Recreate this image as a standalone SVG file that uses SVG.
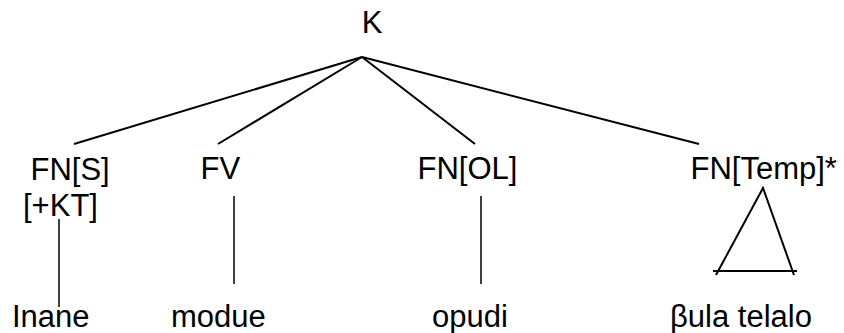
<svg xmlns="http://www.w3.org/2000/svg" width="844" height="333" viewBox="0 0 844 333">
<style>
text{font-family:"Liberation Sans",Arial,sans-serif;font-size:31px;fill:#000}
.e{stroke:#000;stroke-width:2;fill:none}
.v{stroke:#000;stroke-width:1.5;fill:none}
</style>
<rect width="844" height="333" fill="#fff"/>
<g id="connectors">
<line class="e" x1="362" y1="57" x2="74" y2="144"/>
<line class="e" x1="362" y1="57" x2="218" y2="144"/>
<line class="e" x1="362" y1="57" x2="475" y2="144"/>
<line class="e" x1="362" y1="57" x2="699" y2="144"/>
<line class="v" x1="59" y1="219" x2="59" y2="307"/>
<line class="v" x1="234" y1="196" x2="234" y2="284"/>
<line class="v" x1="481" y1="196" x2="481" y2="284"/>
<path class="e" d="M716 275 L763 188 L794 275 M713 271 L797 271"/>
</g>
<g id="K"><text x="372" y="33" text-anchor="middle">K</text></g>
<g id="FN-S"><text x="30.5" y="180">FN[S]</text><text x="23" y="216">[+KT]</text></g>
<g id="FV"><text x="200.5" y="179">FV</text></g>
<g id="FN-OL"><text x="417.5" y="179">FN[OL]</text></g>
<g id="FN-Temp"><text x="690.5" y="179">FN[Temp]*</text></g>
<g id="Inane"><text x="12" y="327">Inane</text></g>
<g id="modue"><text x="171" y="327">modue</text></g>
<g id="opudi"><text x="432" y="327">opudi</text></g>
<g id="bula"><text x="670" y="327">βula telalo</text></g>
</svg>
